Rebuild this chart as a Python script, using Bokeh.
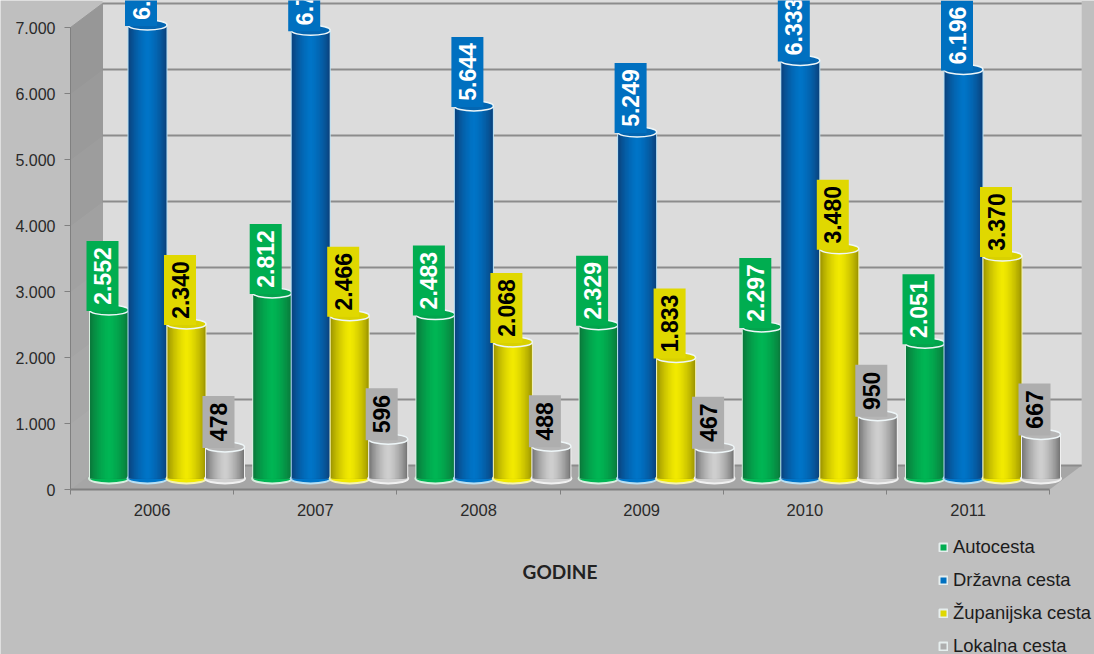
from bokeh.core.properties import value
from bokeh.embed import file_html
from bokeh.models import ColumnDataSource, FixedTicker, Legend, LegendItem, LinearAxis, Range1d
from bokeh.plotting import figure
from bokeh.resources import INLINE
import math

# Road lengths per year and road category
years = ["2006", "2007", "2008", "2009", "2010", "2011"]
autocesta = [2552, 2812, 2483, 2329, 2297, 2051]
drzavna = [6870, 6790, 5644, 5249, 6333, 6196]
zupanijska = [2340, 2466, 2068, 1833, 3480, 3370]
lokalna = [478, 596, 488, 467, 950, 667]
y_ticks = [0, 1000, 2000, 3000, 4000, 5000, 6000, 7000]
y_tick_labels = ["0", "1.000", "2.000", "3.000", "4.000", "5.000", "6.000", "7.000"]

series = [
    ("Autocesta", autocesta, "#0a7a3c", "#00b654", "#00ad50", "white", "#d8f0e0", 38.5),
    ("Državna cesta", drzavna, "#0a4480", "#0075c8", "#0070c0", "white", "#b8e0f4", 77),
    ("Županijska cesta", zupanijska, "#a09800", "#f2ea00", "#e0d800", "black", "#f4f2b0", 116),
    ("Lokalna cesta", lokalna, "#787878", "#d0d0d0", "#aeaeae", "black", "#f0f0f0", 154.5),
]

W, H = 1094, 654
X0_PX, Y0_PX = 70, 489       # axis origin on the canvas
GROUP_PX = 163.2             # pixels per year group
UNIT_PX = 0.066              # pixels per road length unit
DEPTH_XPX, DEPTH_YPX = 32, 24  # 3D box depth
BAR_LIFT_PX = 11             # bars stand on the floor, a little behind the front edge
BAR_PX = 38
LEVELS = 14


def px_x(px):
    return px / GROUP_PX


def px_y(px):
    return px / UNIT_PX


def mix(a, b, t):
    ca = [int(a[i:i + 2], 16) for i in (1, 3, 5)]
    cb = [int(b[i:i + 2], 16) for i in (1, 3, 5)]
    return "#%02x%02x%02x" % tuple(round(p + (q - p) * t) for p, q in zip(ca, cb))


p = figure(
    width=W, height=H, output_backend="svg", toolbar_location=None,
    x_axis_type=None, y_axis_type=None, min_border=0,
    x_range=Range1d(px_x(-X0_PX), px_x(W - X0_PX)),
    y_range=Range1d(px_y(Y0_PX - H), px_y(Y0_PX)),
    background_fill_color="#bfbfbf", border_fill_color="#bfbfbf", outline_line_color=None,
)
p.xgrid.visible = False
p.ygrid.visible = False

dx, dy = px_x(DEPTH_XPX), px_y(DEPTH_YPX)
n_groups = len(years)
top = y_ticks[-1]

# 3D box: back wall, left wall in bands darkening upwards, floor
p.patch([dx, n_groups + dx, n_groups + dx, dx], [dy, dy, top + dy * 1.2, top + dy * 1.2],
        fill_color="#dcdcdc", line_color=None)
for lo, hi in zip(y_ticks[:-1], y_ticks[1:]):
    shade = mix("#aaaaaa", "#949494", lo / top)
    p.patch([0, dx, dx, 0], [lo, lo + dy, hi + dy, hi], fill_color=shade, line_color=shade)
p.patch([0, dx, n_groups + dx, n_groups], [0, dy, dy, 0], fill_color="#a6a6a6", line_color=None)

# Gridlines on the back wall
p.segment([dx] * len(y_ticks), [t + dy for t in y_ticks],
          [n_groups + dx] * len(y_ticks), [t + dy for t in y_ticks],
          line_color="#8c8c8c", line_width=2)

lift = px_y(BAR_LIFT_PX)
legend_items = []

for name, vals, edge, centre, box, txt, halo, offset in series:
    centres = [i + px_x(offset) for i in range(n_groups)]
    tops = [v + lift for v in vals]

    # legend key, tucked under the first cylinder
    key = p.quad(left=[centres[0]], right=[centres[0]], bottom=[lift], top=[lift],
                 fill_color=box, line_color="#e6eeee", line_width=2)
    legend_items.append(LegendItem(label=name, renderers=[key]))

    # rounded foot of each cylinder
    p.ellipse(centres, [lift] * n_groups, width=BAR_PX + 2, height=10,
              width_units="screen", height_units="screen",
              fill_color=centre, line_color=halo, line_width=2)

    # thin pale rim along the sides
    p.vbar(x=centres, width=px_x(BAR_PX + 2), bottom=lift, top=tops, fill_color=halo, line_color=None)

    # body of the cylinder: nested strips, brightest at the centre
    for k in range(LEVELS):
        w = 1 - k / LEVELS
        shade = (1 - w ** 1.5) ** 0.9
        p.vbar(x=centres, width=px_x(BAR_PX) * w, bottom=lift, top=tops,
               fill_color=mix(edge, centre, shade), line_color=None)

    # lid of the cylinder
    p.ellipse(centres, tops, width=BAR_PX + 1, height=10,
              width_units="screen", height_units="screen",
              fill_color=mix(edge, centre, 0.7), line_color="#eef6f8", line_width=1.5)

    # value labels: rotated text on a filled tag resting on the lid
    labels = [f"{v:,}".replace(",", ".") for v in vals]
    heights = [70 if v >= 1000 else 52 for v in vals]
    src = ColumnDataSource(dict(
        x=[c - px_x(6.5) for c in centres],
        mid=[t - px_y(1) + px_y(h) / 2 for t, h in zip(tops, heights)],
        tag=[px_y(h) for h in heights],
        label=labels,
    ))
    p.rect(x="x", y="mid", width=32, height="tag", width_units="screen",
           source=src, fill_color=box, line_color=None)
    p.text(x="x", y="mid", text="label", source=src, angle=math.pi / 2,
           text_align="center", text_baseline="middle",
           text_font=value("Liberation Sans"), text_font_style="bold",
           text_font_size="23px", text_color=txt)

# Axes sit on the data origin inside the full-canvas frame
yaxis = LinearAxis(
    fixed_location=0, bounds=(0, top),
    ticker=FixedTicker(ticks=y_ticks),
    major_label_overrides=dict(zip(y_ticks, y_tick_labels)),
    major_label_text_font="Liberation Sans", major_label_text_font_size="16px",
    major_label_text_color="#2a2a2a", major_label_standoff=9,
    major_tick_out=6, major_tick_in=0, minor_tick_line_color=None,
    major_tick_line_color="#808080", axis_line_color="#808080",
)
p.add_layout(yaxis, "left")

label_pos = [i + 0.5 for i in range(n_groups)]
xaxis = LinearAxis(
    fixed_location=0, bounds=(0, n_groups),
    ticker=FixedTicker(ticks=label_pos, minor_ticks=list(range(n_groups + 1))),
    major_label_overrides=dict(zip(label_pos, years)),
    major_label_text_font="Liberation Sans", major_label_text_font_size="16.5px",
    major_label_text_color="#2a2a2a", major_label_standoff=9,
    major_tick_line_color=None, major_tick_in=0, major_tick_out=0,
    minor_tick_in=0, minor_tick_out=5, minor_tick_line_color="#808080",
    axis_line_color="#808080", axis_line_width=2,
    axis_label="GODINE", axis_label_text_font="Lato", axis_label_text_font_style="bold",
    axis_label_text_font_size="19px", axis_label_text_color="#222222",
    axis_label_standoff=41,
)
p.add_layout(xaxis, "below")

legend = Legend(
    items=legend_items, location=(938, -3), orientation="vertical",
    background_fill_alpha=0, border_line_color=None, padding=0, margin=0,
    glyph_width=10, glyph_height=10, label_standoff=5, spacing=11,
    label_text_font="Liberation Sans", label_text_font_size="18.4px",
    label_text_color="#1c1c1c", label_height=20,
)
p.add_layout(legend, "center")

open("out.html", "w").write(file_html(p, INLINE))
